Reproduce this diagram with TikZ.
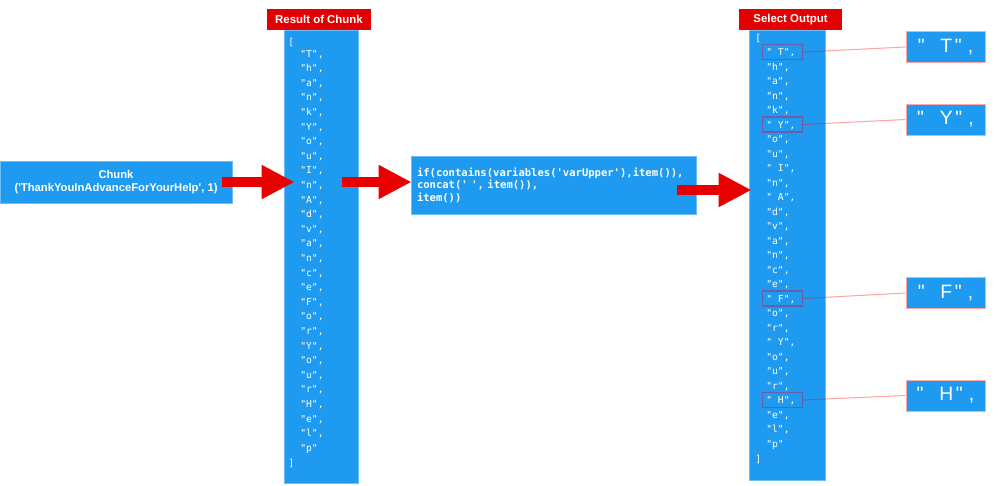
\documentclass[tikz,border=0pt]{standalone}
\usepackage{fontspec}
\usetikzlibrary{arrows.meta, positioning, calc}
\newfontfamily\lblfont{Liberation Sans}[Ligatures=TeXOff]
\newfontfamily\listfont{DejaVu Sans Mono}[Ligatures=TeXOff]
\definecolor{boxblue}{RGB}{30,155,240}
\definecolor{edgeblue}{RGB}{110,190,245}
\definecolor{titlered}{RGB}{226,0,0}
\definecolor{arrowred}{RGB}{232,0,0}
\definecolor{hlpurple}{RGB}{108,94,165}
\newlength{\pxu}\setlength{\pxu}{0.02cm}

\begin{document}
\begin{tikzpicture}[x=0.02cm, y=-0.02cm,
    bluebox/.style={draw=edgeblue, fill=boxblue, line width=0.5pt, inner sep=0pt},
    titlebox/.style={fill=titlered, text=white, font=\lblfont\bfseries\fontsize{6.5}{7}\selectfont,
        minimum height=21\pxu, inner sep=0pt},
    listtext/.style={text=white, font=\listfont\fontsize{5.5}{6}\selectfont, inner sep=0pt, anchor=base west},
    hlbox/.style={draw=hlpurple, line width=0.6pt, minimum width=40\pxu,
        minimum height=15\pxu, inner sep=0pt},
    hlline/.style={draw=red, draw opacity=0.35, line width=0.6pt},
    callout/.style={fill=boxblue, draw=red!35, line width=0.5pt, text=white,
        font=\lblfont\fontsize{11}{12}\selectfont, minimum width=79\pxu, minimum height=31\pxu, inner sep=0pt},
    bigarrow/.style={draw=arrowred, line width=6.2pt, -{Triangle[length=18.7pt, width=18.1pt]}}]
    \useasboundingbox (0,0) rectangle (998,485);

    % Input box
    \node[bluebox, minimum width=232\pxu, minimum height=42\pxu, text=white, align=center,
        font=\lblfont\bfseries\fontsize{6.4}{7}\selectfont] (chunk) at (116,182)
        {Chunk\\('ThankYouInAdvanceForYourHelp', 1)};

    % Result of Chunk column
    \node[bluebox, minimum width=74\pxu, minimum height=453\pxu] (res) at (321,256.5) {};
    \node[titlebox, minimum width=104\pxu] (resTitle) at (319,19.5) {Result of Chunk};
    \node[listtext] (rOpen) at (288,45) {[};
    \foreach \ch [count=\i] in {T,h,a,n,k,Y,o,u,I,n,A,d,v,a,n,c,e,F,o,r,Y,o,u,r,H,e,l,p}
        \node[listtext] (r\i) at (300,{57+(\i-1)*14.6}) {"\ch"\ifnum\i<28,\fi};
    \node[listtext] (rClose) at (288,466) {]};

    % Expression box
    \node[bluebox, minimum width=285\pxu, minimum height=58\pxu, text width=273\pxu, inner xsep=6\pxu,
        align=left, text=white, font=\listfont\bfseries\fontsize{6}{7.1}\selectfont] (code) at (553.5,185)
        {if(contains(variables('varUpper'),item()),\\concat(' ', item()),\\item())};

    % Select Output column
    \node[bluebox, minimum width=76\pxu, minimum height=450\pxu] (sel) at (787,255) {};
    \node[titlebox, minimum width=103\pxu] (selTitle) at (790.5,19.5) {Select Output};
    \node[listtext] (oOpen) at (755,41) {[};
    \foreach \ch/\up [count=\i] in {T/1,h/0,a/0,n/0,k/0,Y/1,o/0,u/0,I/1,n/0,A/1,d/0,v/0,a/0,n/0,
        c/0,e/0,F/1,o/0,r/0,Y/1,o/0,u/0,r/0,H/1,e/0,l/0,p/0}
        \node[listtext] (o\i) at (766,{55.5+(\i-1)*14.5}) {"\ifnum\up=1\ \fi\ch"\ifnum\i<28,\fi};
    \node[listtext] (oClose) at (755,462) {]};

    % Highlighted items
    \foreach \i/\nm in {1/T,6/Y,18/F,25/H}
        \node[hlbox, anchor=west] (h\nm) at ($(o\i.base west)+(-4,-3.5)$) {};

    % Callouts
    \node[callout] (cT) at (945.5,47) {"\hspace{9pt}T\hspace{1.5pt}"\hspace{3.5pt},\hspace{4pt}};
    \node[callout] (cY) at (945.5,119.5) {"\hspace{9pt}Y\hspace{1.5pt}"\hspace{3.5pt},\hspace{4pt}};
    \node[callout] (cF) at (945.5,293) {"\hspace{9pt}F\hspace{1.5pt}"\hspace{3.5pt},\hspace{4pt}};
    \node[callout] (cH) at (945.5,395.5) {"\hspace{9pt}H\hspace{1.5pt}"\hspace{3.5pt},\hspace{4pt}};
    \foreach \nm in {T,Y,F,H}
        \draw[hlline] (h\nm.east) -- (c\nm.west);

    % Red arrows
    \draw[bigarrow] ($(chunk.east)+(-10,0)$) -- ($(res.west |- chunk.east)+(11,0)$);
    \draw[bigarrow] ($(res.east |- chunk.east)+(-16,0)$) -- ($(code.west |- chunk.east)+(1,0)$);
    \draw[bigarrow] ($(code.east)+(-19,5)$) -- ($(sel.west |- code.east)+(3,5)$);
\end{tikzpicture}
\end{document}
